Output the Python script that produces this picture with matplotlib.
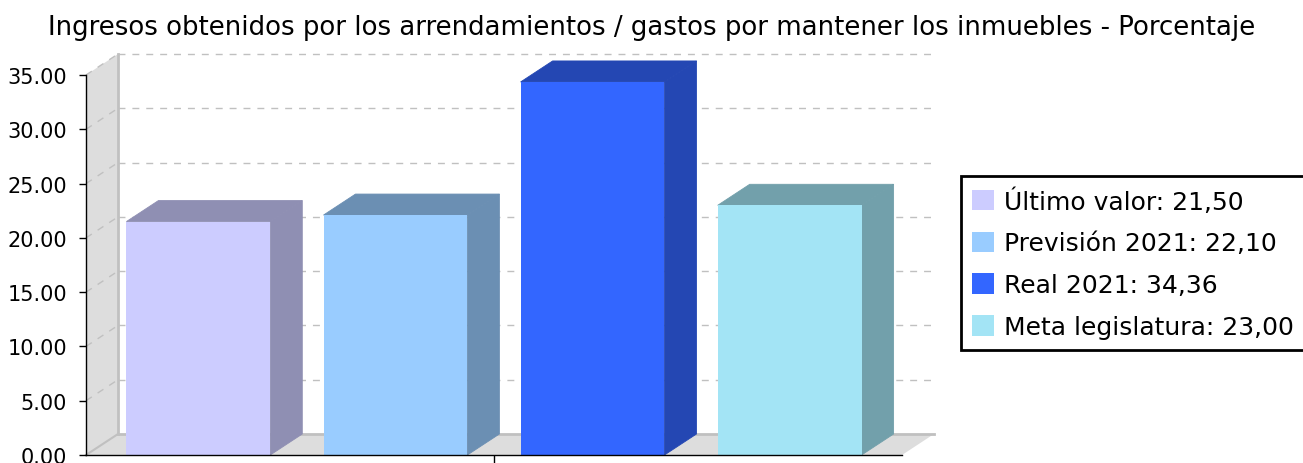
import matplotlib
matplotlib.use("Agg")
from matplotlib import pyplot as plt
from matplotlib.patches import Polygon, Rectangle, Patch
from matplotlib.colors import to_rgb

# Data
labels = ["Último valor", "Previsión 2021", "Real 2021", "Meta legislatura"]
values = [21.50, 22.10, 34.36, 23.00]
colors = ["#CCCCFF", "#99CCFF", "#3366FF", "#A3E4F5"]
yticks = [0, 5, 10, 15, 20, 25, 30, 35]
title = "Ingresos obtenidos por los arrendamientos / gastos por mantener los inmuebles - Porcentaje"

W, H = 1303, 464
fig = plt.figure(figsize=(W / 100, H / 100), dpi=100)
ax = fig.add_axes([86 / W, 8 / H, (902 - 86) / W, 380 / H])
x0, x1 = -0.57, 3.57
y0, y1 = 0, 35
ax.set_xlim(x0, x1)
ax.set_ylim(y0, y1)

# 3D depth in pixels -> data units
DX_PX, DY_PX = 32, 21
ddx = DX_PX / (816) * (x1 - x0)
ddy = DY_PX / 380 * (y1 - y0)

wall = "#DDDDDD"
edge = "#C0C0C0"

def darker(c, f=0.7):
    r, g, b = to_rgb(c)
    return (r * f, g * f, b * f)

# left wall
ax.add_patch(Polygon([(x0, y0), (x0, y1), (x0 + ddx, y1 + ddy), (x0 + ddx, y0 + ddy)],
                     closed=True, facecolor=wall, edgecolor="none", clip_on=False, zorder=0))
# floor
ax.add_patch(Polygon([(x0, y0), (x1, y0), (x1 + ddx, y0 + ddy), (x0 + ddx, y0 + ddy)],
                     closed=True, facecolor=wall, edgecolor="none", clip_on=False, zorder=0))
# wall / floor edges
ax.plot([x0 + ddx, x0 + ddx], [y0 + ddy, y1 + ddy], color=edge, lw=2, clip_on=False, zorder=1)
ax.plot([x0 + ddx, x1 + ddx], [y0 + ddy, y0 + ddy], color=edge, lw=2, clip_on=False, zorder=1)
ax.plot([x0, x0 + ddx], [y0, y0 + ddy], color=edge, lw=1.5, clip_on=False, zorder=1)

# gridlines on back plane and left wall
for v in yticks[1:]:
    ax.plot([x0 + ddx, x1 + ddx], [v + ddy, v + ddy], color=edge, lw=1,
            dashes=(5, 5), clip_on=False, zorder=1)
    ax.plot([x0, x0 + ddx], [v, v + ddy], color=edge, lw=1,
            dashes=(5, 5), clip_on=False, zorder=1)

# bars
bw = 0.73
for i, (v, c) in enumerate(zip(values, colors)):
    left = i - bw / 2
    right = i + bw / 2
    dk = darker(c)
    ax.add_patch(Polygon([(right, 0), (right + ddx, ddy), (right + ddx, v + ddy), (right, v)],
                         closed=True, facecolor=dk, edgecolor=dk, lw=0.6, clip_on=False, zorder=3))
    ax.add_patch(Polygon([(left, v), (right, v), (right + ddx, v + ddy), (left + ddx, v + ddy)],
                         closed=True, facecolor=dk, edgecolor=dk, lw=0.6, clip_on=False, zorder=3))
    ax.add_patch(Rectangle((left, 0), bw, v, facecolor=c, edgecolor="none", clip_on=False, zorder=4))

# axes styling
for s in ["top", "right"]:
    ax.spines[s].set_visible(False)
for s in ["left", "bottom"]:
    ax.spines[s].set_color("black")
    ax.spines[s].set_linewidth(1)
    ax.spines[s].set_zorder(5)
ax.patch.set_visible(False)
ax.set_yticks(yticks)
ax.set_yticklabels([f"{t:.2f}" for t in yticks])
ax.tick_params(axis="y", length=5, width=1, pad=8.5, labelsize=15)
ax.set_xticks([1.5])
ax.set_xticklabels([""])
ax.tick_params(axis="x", length=8, width=1)

fig.text(0.5, 1 - 28 / H, title, ha="center", va="center", fontsize=18.7)

handles = [Patch(facecolor=c, edgecolor="none") for c in colors]
leg_labels = [f"{l}: {v:.2f}".replace(".", ",") for l, v in zip(labels, values)]
leg = fig.legend(handles, leg_labels, loc="upper left", bbox_to_anchor=(961 / W, 1 - 177 / H),
                 fontsize=18, fancybox=False, framealpha=1, edgecolor="black",
                 handlelength=0.88, handleheight=0.88, handletextpad=0.4,
                 labelspacing=0.71, borderpad=0.45, borderaxespad=0)
leg.get_frame().set_linewidth(2)

fig.savefig("out.png", dpi=100)
